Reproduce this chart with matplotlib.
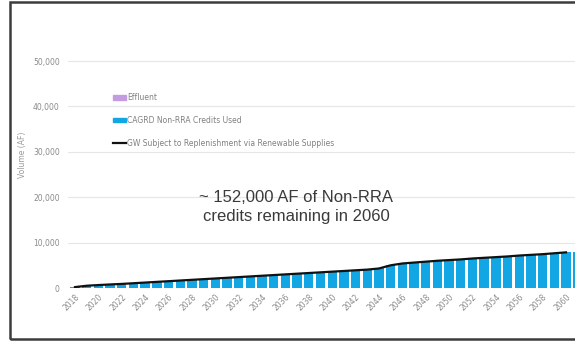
import matplotlib
matplotlib.use("Agg")
import matplotlib.pyplot as plt
from matplotlib.patches import Rectangle
from matplotlib.lines import Line2D
from matplotlib.patches import Patch

years = list(range(2018, 2062))
non_rra_credits = [200, 500, 650, 780, 900, 1050, 1200, 1350, 1500, 1650,
                   1800, 1950, 2100, 2250, 2400, 2550, 2700, 2850, 3000, 3150,
                   3300, 3450, 3600, 3750, 3900, 4050, 4300, 5000, 5400, 5600,
                   5800, 6000, 6150, 6300, 6500, 6650, 6800, 6950, 7150, 7300,
                   7450, 7650, 7850, 7950]
effluent = [0] * len(years)
gw_line_years = years[:43]
gw_line = non_rra_credits[:43]
y_ticks = [0, 10000, 20000, 30000, 40000, 50000]
x_tick_years = list(range(2018, 2061, 2))
annotation = "~ 152,000 AF of Non-RRA\ncredits remaining in 2060"

W, H = 575, 341
fig = plt.figure(figsize=(W / 100, H / 100), dpi=100)
fig.patch.set_facecolor("white")

x0, x1 = 68, 575
y0, y50 = 288, 61
ymax = 55000
top_px = y0 - (y0 - y50) * ymax / 50000
ax = fig.add_axes([x0 / W, (H - y0) / H, (x1 - x0) / W, (y0 - top_px) / H])

bar_color = "#13a6e4"
ax.bar(years, non_rra_credits, width=0.8, color=bar_color, zorder=2)
ax.bar(years, effluent, bottom=non_rra_credits, width=0.8, color="#c39be0", zorder=2)
ax.plot(gw_line_years, gw_line, color="#111111", lw=1.6, zorder=3)

ax.set_ylim(0, ymax)
ax.set_xlim(2017.4, 2060.77)
ax.set_yticks(y_ticks)
ax.set_yticklabels([f"{v:,}" for v in y_ticks])
ax.set_xticks(x_tick_years)
ax.set_xticklabels([str(y) for y in x_tick_years], rotation=45, ha="right",
                   rotation_mode="anchor")
ax.tick_params(axis="both", length=0, labelsize=5.5, labelcolor="#8a8a8a", pad=6)
ax.tick_params(axis="x", pad=3)
ax.grid(axis="y", color="#e6e6e6", lw=0.8, zorder=0)
ax.set_axisbelow(True)
for s in ax.spines.values():
    s.set_visible(False)

fig.text(22 / W, (H - 155) / H, "Volume (AF)", rotation=90, fontsize=5.5,
         color="#9a9a9a", ha="center", va="center")

handles = [Patch(color="#c39be0"), Patch(color=bar_color),
           Line2D([0], [0], color="#111111", lw=1.6)]
labels = ["Effluent", "CAGRD Non-RRA Credits Used",
          "GW Subject to Replenishment via Renewable Supplies"]
leg = ax.legend(handles, labels, loc="upper left",
                bbox_to_anchor=((110 - x0) / (x1 - x0), 1 - (90 - top_px) / (y0 - top_px)),
                frameon=False, fontsize=5.5, labelspacing=1.8, handlelength=1.7,
                handleheight=0.5, handletextpad=0.15, borderaxespad=0)
for t in leg.get_texts():
    t.set_color("#808080")

fig.text(296 / W, (H - 207) / H, annotation, fontsize=12, color="#3a3a3a",
         ha="center", va="center", family="Liberation Sans", linespacing=1.4)

fig.add_artist(Rectangle((10 / W, 2 / H), 1.0, 337 / H, transform=fig.transFigure,
                         fill=False, edgecolor="#3c3c3c", lw=1.8, clip_on=False))

fig.savefig("out.png", dpi=100)
